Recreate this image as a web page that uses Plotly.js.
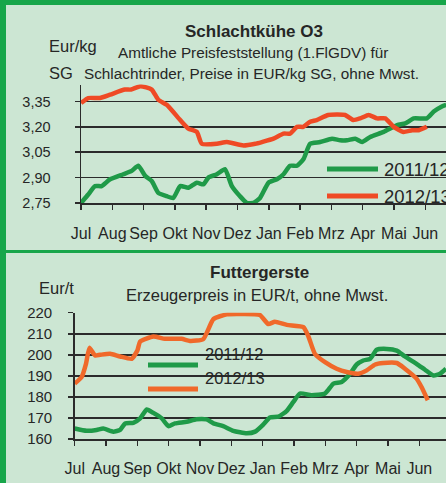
<!DOCTYPE html>
<html><head><meta charset="utf-8">
<script src="https://cdn.plot.ly/plotly-3.0.1.min.js"></script>
<style>html,body{margin:0;padding:0;background:#cce6d3;}#chart{width:446px;height:483px;}</style>
</head><body><div id="chart"></div>
<script>
const months = ["Jul","Aug","Sep","Okt","Nov","Dez","Jan","Feb","Mrz","Apr","Mai","Jun"];
const seriesNames = ["2011/12","2012/13"];

// Schlachtkühe O3 (EUR/kg SG), x = month position (0 = Jul)
const kueheX1112 = [0,0.23,0.45,0.66,0.93,1.35,1.62,1.83,2.05,2.26,2.47,2.74,2.95,3.17,3.43,3.7,3.91,4.07,4.34,4.6,4.82,5.08,5.3,5.51,5.72,5.99,6.26,6.47,6.68,6.9,7.11,7.32,7.64,8.02,8.28,8.5,8.76,8.98,9.24,9.67,10.1,10.36,10.63,11.05,11.27,11.53,11.67];
const kueheY1112 = [2.75,2.80,2.85,2.85,2.89,2.92,2.94,2.97,2.91,2.88,2.81,2.79,2.78,2.85,2.84,2.87,2.86,2.90,2.92,2.95,2.85,2.79,2.75,2.75,2.78,2.87,2.89,2.92,2.97,2.97,3.01,3.10,3.11,3.13,3.12,3.12,3.13,3.11,3.14,3.17,3.21,3.22,3.25,3.25,3.29,3.32,3.33];
const kueheX1213 = [0,0.23,0.6,0.93,1.4,1.6,1.9,2.26,2.47,2.74,3.17,3.43,3.7,3.86,4.34,4.66,5.19,5.57,5.78,6.15,6.47,6.68,6.9,7.1,7.32,7.53,7.9,8.44,8.7,8.92,9.19,9.46,9.72,9.99,10.3,10.58,10.79,11.05];
const kueheY1213 = [3.34,3.37,3.37,3.39,3.42,3.42,3.44,3.42,3.36,3.33,3.24,3.19,3.17,3.10,3.10,3.11,3.09,3.10,3.11,3.13,3.16,3.16,3.20,3.20,3.23,3.24,3.27,3.27,3.24,3.25,3.27,3.25,3.25,3.20,3.17,3.18,3.18,3.20];
const kueheTicks = [2.75,2.90,3.05,3.20,3.35];
const kueheTickText = ["2,75","2,90","3,05","3,20","3,35"];

// Futtergerste (EUR/t)
const gersteX1112 = [0,0.38,0.7,0.91,1.23,1.45,1.61,1.87,2.09,2.3,2.51,2.78,2.99,3.2,3.57,3.89,4.21,4.43,4.74,5.06,5.49,5.76,6.02,6.23,6.5,6.77,6.98,7.19,7.56,7.99,8.26,8.52,8.79,9.0,9.21,9.43,9.64,9.96,10.28,10.54,10.91,11.18,11.45,11.66,11.85];
const gersteY1112 = [165,163.9,164.3,165,163.5,164.3,167.4,167.7,169.8,174,172.4,169.8,166.1,167.4,168.2,169.4,169.3,167.4,166.1,163.9,162.7,163.5,166.9,170.2,170.6,173.4,177.6,181.6,180.8,181.6,186.3,187.1,191,195.4,197.3,198.1,202.4,202.8,202,199.2,195.7,192.9,190.2,191,193.4];
const gersteX1213 = [0,0.22,0.36,0.47,0.65,0.81,1.13,1.45,1.82,2.0,2.09,2.51,2.88,3.41,3.68,4.1,4.43,4.85,5.38,5.91,6.18,6.39,6.77,7.3,7.46,7.67,7.99,8.36,8.68,9.05,9.32,9.59,9.85,10.28,10.54,10.91,11.07,11.27];
const gersteY1213 = [186.3,189.4,195.7,203.3,199.7,200,200.5,199.2,198.1,202,206.3,208.7,207.6,207.6,206.6,207.4,217,219.2,219.4,218.9,214.6,215.7,214.2,213.1,208.7,200.4,196.5,193.4,191.8,191,192.6,195.4,196.1,196.1,193.4,188.7,184.7,178.4];
const gersteTicks = [160,170,180,190,200,210,220];

const GREEN = "#1f9a48";
const ORANGE1 = "#ef4a25";
const ORANGE2 = "#f0692a";
const FONT = "'Liberation Sans Narrow','Arial Narrow','Liberation Sans',Arial,sans-serif";
const TXT = "#262626";
const W = 446, H = 483;
const px = x => x / W;
const py = y => 1 - y / H;
const monthIdx = months.map((m, i) => i);

const traces = [
  {x: kueheX1112, y: kueheY1112, name: seriesNames[0], type: "scatter", mode: "lines", line: {color: GREEN, width: 4.5, shape: "spline", smoothing: 0.5}, xaxis: "x", yaxis: "y"},
  {x: kueheX1213, y: kueheY1213, name: seriesNames[1], type: "scatter", mode: "lines", line: {color: ORANGE1, width: 4.5, shape: "spline", smoothing: 0.5}, xaxis: "x", yaxis: "y"},
  {x: gersteX1112, y: gersteY1112, name: seriesNames[0], type: "scatter", mode: "lines", line: {color: GREEN, width: 4.5, shape: "spline", smoothing: 0.5}, xaxis: "x2", yaxis: "y2"},
  {x: gersteX1213, y: gersteY1213, name: seriesNames[1], type: "scatter", mode: "lines", line: {color: ORANGE2, width: 4.5, shape: "spline", smoothing: 0.5}, xaxis: "x2", yaxis: "y2"}
];

const axCommon = {
  showline: true, linecolor: "#2b2b2b", linewidth: 1.5, ticks: "outside", ticklen: 5, tickwidth: 1.5, tickcolor: "#2b2b2b",
  tickfont: {family: FONT, size: 16, color: TXT}, zeroline: false, fixedrange: true, tickangle: 0
};

const layout = {
  width: W, height: H, margin: {l: 0, r: 0, t: 0, b: 0},
  paper_bgcolor: "#cce6d3", plot_bgcolor: "rgba(0,0,0,0)", showlegend: false,
  font: {family: FONT, color: TXT},
  xaxis: Object.assign({}, axCommon, {domain: [px(81), 1], range: [0, (446 - 81) / 31.3], tickvals: monthIdx, ticktext: months, showgrid: false, ticklabelstandoff: 10, anchor: "y"}),
  yaxis: Object.assign({}, axCommon, {domain: [py(203), py(84.5)], range: [2.75, 3.45], tickvals: kueheTicks, ticktext: kueheTickText, showgrid: true, gridcolor: "#2b2b2b", gridwidth: 1.5, ticklabelstandoff: 21, anchor: "x", tickfont: {family: FONT, size: 14.5, color: TXT}}),
  xaxis2: Object.assign({}, axCommon, {domain: [px(74.7), 1], range: [0, (446 - 74.7) / 31.33], tickvals: monthIdx, ticktext: months, showgrid: false, ticklabelstandoff: 9, anchor: "y2"}),
  yaxis2: Object.assign({}, axCommon, {domain: [py(439), py(312.7)], range: [160, 220], tickvals: gersteTicks, showgrid: true, gridcolor: "#2b2b2b", gridwidth: 1.5, ticklabelstandoff: 13, anchor: "x2", tickfont: {family: FONT, size: 15, color: TXT}}),
  shapes: [
    {type: "rect", xref: "paper", yref: "paper", x0: 0, x1: 1, y0: py(5), y1: 1, fillcolor: "#17a64a", line: {width: 0}, layer: "above"},
    {type: "rect", xref: "paper", yref: "paper", x0: 0, x1: px(6), y0: 0, y1: 1, fillcolor: "#17a64a", line: {width: 0}, layer: "above"},
    {type: "line", xref: "paper", yref: "paper", x0: 0, x1: 1, y0: py(251.5), y1: py(251.5), line: {color: "#17a64a", width: 3}},
    // legends
    {type: "line", xref: "paper", yref: "paper", x0: px(327), x1: px(378), y0: py(169), y1: py(169), line: {color: GREEN, width: 5}},
    {type: "line", xref: "paper", yref: "paper", x0: px(327), x1: px(378), y0: py(196), y1: py(196), line: {color: ORANGE1, width: 5}},
    {type: "line", xref: "paper", yref: "paper", x0: px(148), x1: px(198), y0: py(365), y1: py(365), line: {color: GREEN, width: 5}},
    {type: "line", xref: "paper", yref: "paper", x0: px(148), x1: px(198), y0: py(389), y1: py(389), line: {color: ORANGE2, width: 5}}
  ],
  annotations: [
    {text: "<b>Schlachtkühe O3</b>", x: px(254), y: py(20), xref: "paper", yref: "paper", showarrow: false, font: {family: FONT, size: 17, color: TXT}},
    {text: "Amtliche Preisfeststellung (1.FlGDV) für", x: px(253), y: py(42), xref: "paper", yref: "paper", showarrow: false, font: {family: FONT, size: 15.3, color: TXT}},
    {text: "Schlachtrinder, Preise in EUR/kg SG, ohne Mwst.", x: px(252), y: py(63), xref: "paper", yref: "paper", showarrow: false, font: {family: FONT, size: 15.3, color: TXT}},
    {text: "Eur/kg", x: px(47), y: py(35), xref: "paper", yref: "paper", showarrow: false, font: {family: FONT, size: 16.5, color: TXT}},
    {text: "SG", x: px(47), y: py(62), xref: "paper", yref: "paper", showarrow: false, font: {family: FONT, size: 16.5, color: TXT}},
    {text: seriesNames[0], x: px(382), y: py(169), xref: "paper", yref: "paper", xanchor: "left", showarrow: false, font: {family: FONT, size: 18.5, color: TXT}},
    {text: seriesNames[1], x: px(382), y: py(196), xref: "paper", yref: "paper", xanchor: "left", showarrow: false, font: {family: FONT, size: 18.5, color: TXT}},
    {text: "<b>Futtergerste</b>", x: px(259), y: py(272), xref: "paper", yref: "paper", showarrow: false, font: {family: FONT, size: 17, color: TXT}},
    {text: "Erzeugerpreis in EUR/t, ohne Mwst.", x: px(257), y: py(295), xref: "paper", yref: "paper", showarrow: false, font: {family: FONT, size: 16.5, color: TXT}},
    {text: "Eur/t", x: px(37), y: py(288), xref: "paper", yref: "paper", showarrow: false, font: {family: FONT, size: 16.5, color: TXT}},
    {text: seriesNames[0], x: px(203), y: py(365), xref: "paper", yref: "paper", xanchor: "left", showarrow: false, font: {family: FONT, size: 16.5, color: TXT}},
    {text: seriesNames[1], x: px(203), y: py(389), xref: "paper", yref: "paper", xanchor: "left", showarrow: false, font: {family: FONT, size: 16.5, color: TXT}}
  ]
};

Plotly.newPlot("chart", traces, layout, {staticPlot: true, displayModeBar: false});
</script></body></html>
